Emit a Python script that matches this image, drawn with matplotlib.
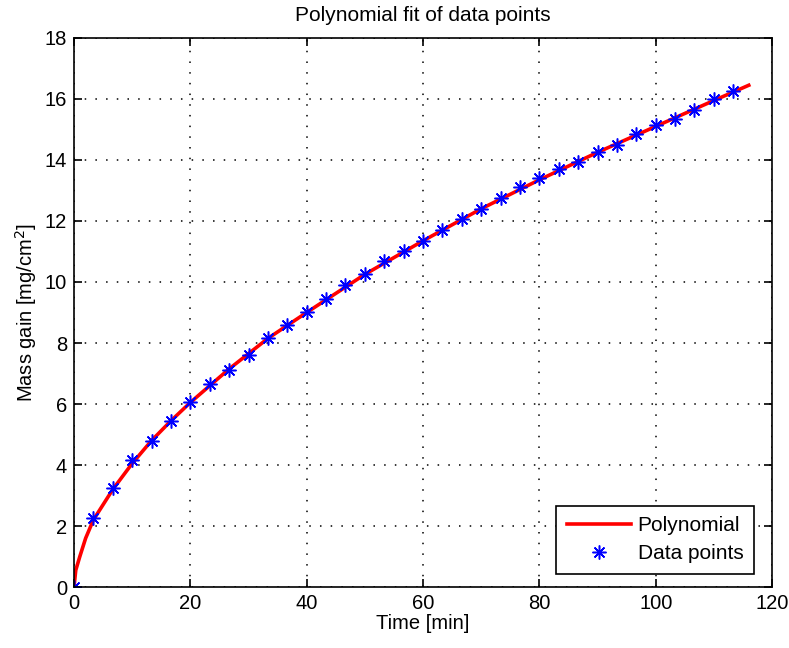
import numpy as np
import matplotlib.pyplot as plt

plt.rcParams['font.family'] = ['Liberation Sans', 'DejaVu Sans']
plt.rcParams['font.size'] = 14.5

# measured mass gain, sampled every 3.33 min
t_data = [0, 3.33, 6.67, 10, 13.33, 16.67, 20, 23.33, 26.67, 30, 33.33, 36.67,
          40, 43.33, 46.67, 50, 53.33, 56.67, 60, 63.33, 66.67, 70, 73.33, 76.67,
          80, 83.33, 86.67, 90, 93.33, 96.67, 100, 103.33, 106.67, 110, 113.33]
m_data = [0, 2.25, 3.25, 4.15, 4.8, 5.45, 6.05, 6.65, 7.1, 7.6, 8.15, 8.6,
          9.0, 9.45, 9.9, 10.25, 10.7, 11.0, 11.35, 11.7, 12.05, 12.4, 12.75, 13.1,
          13.4, 13.7, 13.95, 14.25, 14.5, 14.85, 15.15, 15.35, 15.65, 16.0, 16.25]

# fitted curve
t_fit = [0, 0.3, 1, 2, 3.33, 6.67, 10, 13.33, 16.67, 20, 26.67, 33.33, 40, 50,
         60, 70, 80, 90, 100, 110, 116]
m_fit = [0, 0.55, 1.0, 1.6, 2.2, 3.2, 4.05, 4.8, 5.45, 6.05, 7.15, 8.15, 9.0, 10.25,
         11.35, 12.4, 13.35, 14.25, 15.1, 15.95, 16.45]

fig = plt.figure(figsize=(7.89, 6.48), dpi=100)
ax = fig.add_axes([0.0938, 0.0941, 0.8847, 0.8473])

ax.plot(t_fit, m_fit, color='red', lw=2.6, label='Polynomial')
ax.plot(t_data, m_data, ls='none', marker=(8, 2, 0), color='blue', markersize=10,
        markeredgewidth=1.1, label='Data points')

ax.set_xlim(0, 120)
ax.set_ylim(0, 18)
ax.set_xticks(np.arange(0, 121, 20))
ax.set_yticks(np.arange(0, 19, 2))
ax.tick_params(direction='in', top=True, right=True, length=6, width=1.2, pad=5)
ax.grid(True, color='black', ls=(0, (1, 6)), lw=1.1)
for s in ax.spines.values():
    s.set_linewidth(1.2)

ax.set_title('Polynomial fit of data points', fontsize=15, pad=12)
ax.set_xlabel('Time [min]', labelpad=1)
ax.set_ylabel('Mass gain [mg/cm$^2$]', labelpad=4)

leg = ax.legend(loc='lower right', bbox_to_anchor=(0.974, 0.024), borderaxespad=0,
                fancybox=False, framealpha=1, edgecolor='black',
                fontsize=15, handlelength=3.1, handletextpad=0.3,
                borderpad=0.5, labelspacing=0.45)
leg.get_frame().set_linewidth(1.2)

fig.savefig('out.png', dpi=100)
